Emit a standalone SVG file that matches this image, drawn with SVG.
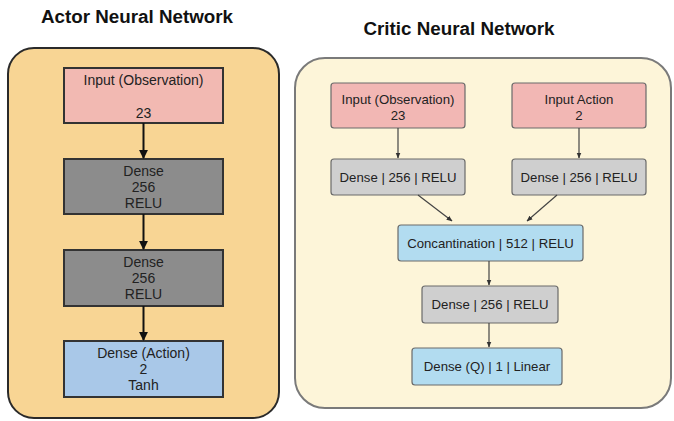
<svg xmlns="http://www.w3.org/2000/svg" width="674" height="421" viewBox="0 0 674 421">
  <defs>
    <marker id="arrowBig" viewBox="0 0 10 10" refX="9" refY="5" markerWidth="4.5" markerHeight="4.5" orient="auto">
      <path d="M0,0 L10,5 L0,10 z" fill="#111"/>
    </marker>
    <marker id="arrowSmall" viewBox="0 0 10 10" refX="9" refY="5" markerWidth="5" markerHeight="5" orient="auto">
      <path d="M0,1 L10,5 L0,9 z" fill="#333"/>
    </marker>
  </defs>
  <style>
    .title { font-family: "Liberation Sans", Arial, sans-serif; font-weight: bold; font-size: 18.8px; fill: #111; text-anchor: middle; }
    .lbl { font-family: "Liberation Sans", Arial, sans-serif; fill: #222; text-anchor: middle; }
    .la { font-size: 14px; }
    .lc { font-size: 13.2px; }
    .actorPanel { fill: #f8d594; stroke: #2a2a2a; stroke-width: 2; }
    .criticPanel { fill: #fdf5d9; stroke: #7a7a7a; stroke-width: 2; }
    .pinkA { fill: #f2b9b2; stroke: #333; stroke-width: 2; }
    .grayA { fill: #8c8c8c; stroke: #333; stroke-width: 2; }
    .blueA { fill: #a9c8e8; stroke: #333; stroke-width: 2; }
    .pinkC { fill: #f2b7b4; stroke: #6a6a6a; stroke-width: 1.2; }
    .grayC { fill: #cfcfcf; stroke: #6a6a6a; stroke-width: 1.2; }
    .blueC { fill: #b2dcf0; stroke: #6a6a6a; stroke-width: 1.2; }
    .edgeA { stroke: #111; stroke-width: 2; fill: none; marker-end: url(#arrowBig); }
    .edgeC { stroke: #444; stroke-width: 1.2; fill: none; marker-end: url(#arrowSmall); }
  </style>

  <rect width="674" height="421" fill="#ffffff"/>

  <!-- Actor network -->
  <text class="title" x="137" y="23">Actor Neural Network</text>
  <rect class="actorPanel" x="8" y="48" width="271" height="370" rx="26"/>

  <g id="actor-input">
    <rect class="pinkA" x="64" y="68" width="159" height="55"/>
    <text class="lbl la" x="143.5" y="85">Input (Observation)</text>
    <text class="lbl la" x="143.5" y="118">23</text>
  </g>
  <g id="actor-dense1">
    <rect class="grayA" x="64" y="159" width="159" height="55"/>
    <text class="lbl la" x="143.5" y="176">Dense</text>
    <text class="lbl la" x="143.5" y="192">256</text>
    <text class="lbl la" x="143.5" y="208">RELU</text>
  </g>
  <g id="actor-dense2">
    <rect class="grayA" x="64" y="250" width="159" height="56"/>
    <text class="lbl la" x="143.5" y="267">Dense</text>
    <text class="lbl la" x="143.5" y="283">256</text>
    <text class="lbl la" x="143.5" y="299">RELU</text>
  </g>
  <g id="actor-action">
    <rect class="blueA" x="64" y="341" width="159" height="56"/>
    <text class="lbl la" x="143.5" y="358">Dense (Action)</text>
    <text class="lbl la" x="143.5" y="374">2</text>
    <text class="lbl la" x="143.5" y="390">Tanh</text>
  </g>

  <!-- Critic network -->
  <text class="title" x="459" y="35">Critic Neural Network</text>
  <rect class="criticPanel" x="295" y="58" width="376" height="350" rx="30"/>

  <g id="critic-obs">
    <rect class="pinkC" x="331" y="83" width="134" height="45" rx="3"/>
    <text class="lbl lc" x="398" y="104">Input (Observation)</text>
    <text class="lbl lc" x="398" y="120">23</text>
  </g>
  <g id="critic-action">
    <rect class="pinkC" x="512" y="83" width="134" height="45" rx="3"/>
    <text class="lbl lc" x="579" y="104">Input Action</text>
    <text class="lbl lc" x="579" y="120">2</text>
  </g>
  <g id="critic-dense-obs">
    <rect class="grayC" x="331" y="159" width="134" height="36" rx="3"/>
    <text class="lbl lc" x="398" y="182">Dense | 256 | RELU</text>
  </g>
  <g id="critic-dense-action">
    <rect class="grayC" x="512" y="159" width="134" height="36" rx="3"/>
    <text class="lbl lc" x="579" y="182">Dense | 256 | RELU</text>
  </g>
  <g id="critic-concat">
    <rect class="blueC" x="398" y="225" width="185" height="36" rx="3"/>
    <text class="lbl lc" x="490.5" y="248">Concantination | 512 | RELU</text>
  </g>
  <g id="critic-dense">
    <rect class="grayC" x="422" y="286" width="136" height="37" rx="3"/>
    <text class="lbl lc" x="490" y="309">Dense | 256 | RELU</text>
  </g>
  <g id="critic-q">
    <rect class="blueC" x="412" y="348" width="150" height="37" rx="3"/>
    <text class="lbl lc" x="487" y="371">Dense (Q) | 1 | Linear</text>
  </g>

  <!-- Connectors -->
  <g id="connectors">
    <line class="edgeA" x1="143.5" y1="123" x2="143.5" y2="158"/>
    <line class="edgeA" x1="143.5" y1="214" x2="143.5" y2="249"/>
    <line class="edgeA" x1="143.5" y1="306" x2="143.5" y2="340"/>

    <line class="edgeC" x1="398" y1="128" x2="398" y2="158"/>
    <line class="edgeC" x1="579" y1="128" x2="579" y2="158"/>
    <line class="edgeC" x1="418" y1="195" x2="452" y2="221"/>
    <line class="edgeC" x1="557" y1="195" x2="527" y2="221"/>
    <line class="edgeC" x1="489" y1="261" x2="489" y2="285"/>
    <line class="edgeC" x1="489" y1="323" x2="489" y2="347"/>
  </g>
</svg>
